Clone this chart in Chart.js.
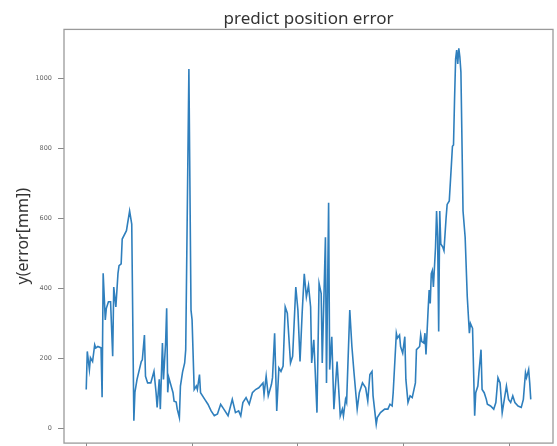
<!DOCTYPE html>
<html>
<head>
<meta charset="utf-8">
<script src="https://cdn.jsdelivr.net/npm/chart.js@4"></script>
<style>
  html, body { margin: 0; padding: 0; background: #fff; overflow: hidden; }
  #wrap { width: 557px; height: 446px; overflow: hidden; }
</style>
</head>
<body>
<div id="wrap"><canvas id="chart" width="557" height="453"></canvas></div>
<script>
// sample index along the run (x) and the prediction error in mm (y)
const frameIdx = [
  0, 1, 3, 4, 6, 8, 9, 11, 14, 15, 16, 18, 19, 21, 23, 25, 26, 28, 30, 31,
  33, 34, 38, 39, 41, 43, 45, 46, 48, 52, 53, 55, 56, 58, 61, 64, 66, 67, 69, 70,
  72, 73, 75, 76, 77, 78, 82, 83, 85, 86, 88, 89, 91, 93, 94, 97, 99, 100, 102, 104,
  105, 107, 108, 112, 115, 118, 121, 124, 127, 130, 134, 138, 141, 144, 146, 148, 151, 154, 157, 160,
  163, 167, 168, 170, 172, 175, 176, 178, 180, 182, 184, 186, 188, 190, 193, 195, 198, 200, 202, 204,
  206, 208, 210, 212, 213, 215, 216, 218, 220, 222, 223, 226, 227, 229, 230, 232, 234, 237, 240, 242,
  243, 245, 246, 249, 251, 253, 256, 258, 261, 264, 266, 268, 270, 271, 274, 275, 278, 282, 285, 287,
  289, 290, 293, 294, 296, 297, 299, 301, 302, 304, 306, 308, 311, 312, 315, 316, 317, 319, 320, 321,
  323, 324, 325, 326, 327, 328, 330, 331, 332, 333, 334, 335, 337, 338, 340, 341, 343, 345, 346, 347,
  348, 349, 350, 351, 352, 353, 354, 356, 358, 360, 362, 363, 365, 367, 368, 370, 371, 373, 374, 376,
  378, 379, 382, 385, 387, 389, 391, 393, 395, 397, 399, 401, 403, 405, 408, 411, 413, 415, 416, 418,
  419, 420
];
const errorMm = [
  110, 219, 167, 201, 190, 238, 229, 233, 229, 88, 442, 309, 342, 361, 361, 205, 403, 346, 442, 464,
  469, 540, 564, 583, 620, 583, 21, 102, 139, 190, 195, 266, 148, 129, 129, 162, 101, 59, 139, 54,
  243, 139, 243, 342, 102, 144, 101, 77, 74, 54, 30, 120, 160, 186, 224, 1026, 337, 309, 110, 120,
  110, 153, 101, 82, 68, 49, 35, 40, 68, 54, 35, 82, 44, 49, 35, 73, 87, 68, 101, 110,
  115, 129, 96, 148, 92, 125, 144, 271, 49, 172, 162, 177, 346, 328, 186, 205, 403, 337, 190, 328,
  441, 375, 408, 346, 186, 252, 186, 44, 413, 384, 186, 545, 129, 644, 167, 261, 54, 190, 35, 54,
  35, 82, 73, 337, 233, 158, 54, 101, 129, 115, 77, 153, 162, 92, 11, 30, 44, 54, 54, 68,
  63, 101, 271, 257, 266, 233, 214, 261, 139, 73, 92, 87, 129, 224, 233, 266, 247, 243, 271, 210,
  337, 394, 356, 441, 450, 403, 516, 620, 545, 276, 620, 526, 516, 507, 601, 639, 649, 752, 805, 809,
  941, 1055, 1080, 1040, 1085, 1060, 1017, 620, 545, 375, 271, 299, 285, 35, 101, 120, 158, 224, 110, 101,
  82, 68, 63, 54, 73, 144, 129, 44, 82, 120, 82, 73, 92, 73, 63, 59, 82, 158, 144, 167,
  129, 82
];
const xTicks = [0, 100, 200, 300, 400];
const yTicks = [0, 200, 400, 600, 800, 1000];

const points = frameIdx.map((x, i) => ({ x, y: errorMm[i] }));

// box round the plot, like the matplotlib spines
const frameBox = {
  id: "frameBox",
  afterDraw(chart) {
    const { ctx, chartArea: a } = chart;
    ctx.save();
    ctx.strokeStyle = "#9a9a9a";
    ctx.lineWidth = 1.3;
    ctx.strokeRect(a.left, a.top, a.right - a.left, a.bottom - a.top);
    ctx.restore();
  }
};

new Chart(document.getElementById("chart"), {
  type: "line",
  data: {
    datasets: [{
      data: points,
      borderColor: "#2f7fbd",
      borderWidth: 1.6,
      pointRadius: 0,
      pointHoverRadius: 0,
      tension: 0,
      fill: false
    }]
  },
  options: {
    responsive: false,
    animation: false,
    layout: { autoPadding: false, padding: { left: 0, right: 4, top: 0, bottom: 0 } },
    plugins: {
      legend: { display: false },
      tooltip: { enabled: false },
      title: {
        display: true,
        fullSize: false,
        text: "predict position error",
        color: "#333",
        font: { family: "Noto Sans", size: 17, weight: "normal" },
        padding: { top: 9, bottom: 0 }
      }
    },
    scales: {
      x: {
        type: "linear",
        min: -21,
        max: 441,
        afterBuildTicks: s => { s.ticks = xTicks.map(v => ({ value: v })); },
        afterFit: s => { s.height = 3; },
        ticks: { display: false },
        grid: { drawOnChartArea: false, drawTicks: true, tickLength: 4, color: "#888" },
        border: { display: false }
      },
      y: {
        type: "linear",
        min: -43,
        max: 1139,
        afterBuildTicks: s => { s.ticks = yTicks.map(v => ({ value: v })); },
        afterFit: s => { s.width = 64; },
        ticks: {
          color: "#666",
          padding: 6,
          font: { family: "DejaVu Sans", size: 6.5 },
          callback: v => String(v)
        },
        grid: { drawOnChartArea: false, drawTicks: true, tickLength: 6, color: "#888" },
        border: { display: false },
        title: {
          display: true,
          text: "y(error[mm])",
          color: "#333",
          font: { family: "Noto Sans", size: 16 },
          padding: { top: 14, bottom: 0 }
        }
      }
    }
  },
  plugins: [frameBox]
});
</script>
</body>
</html>
